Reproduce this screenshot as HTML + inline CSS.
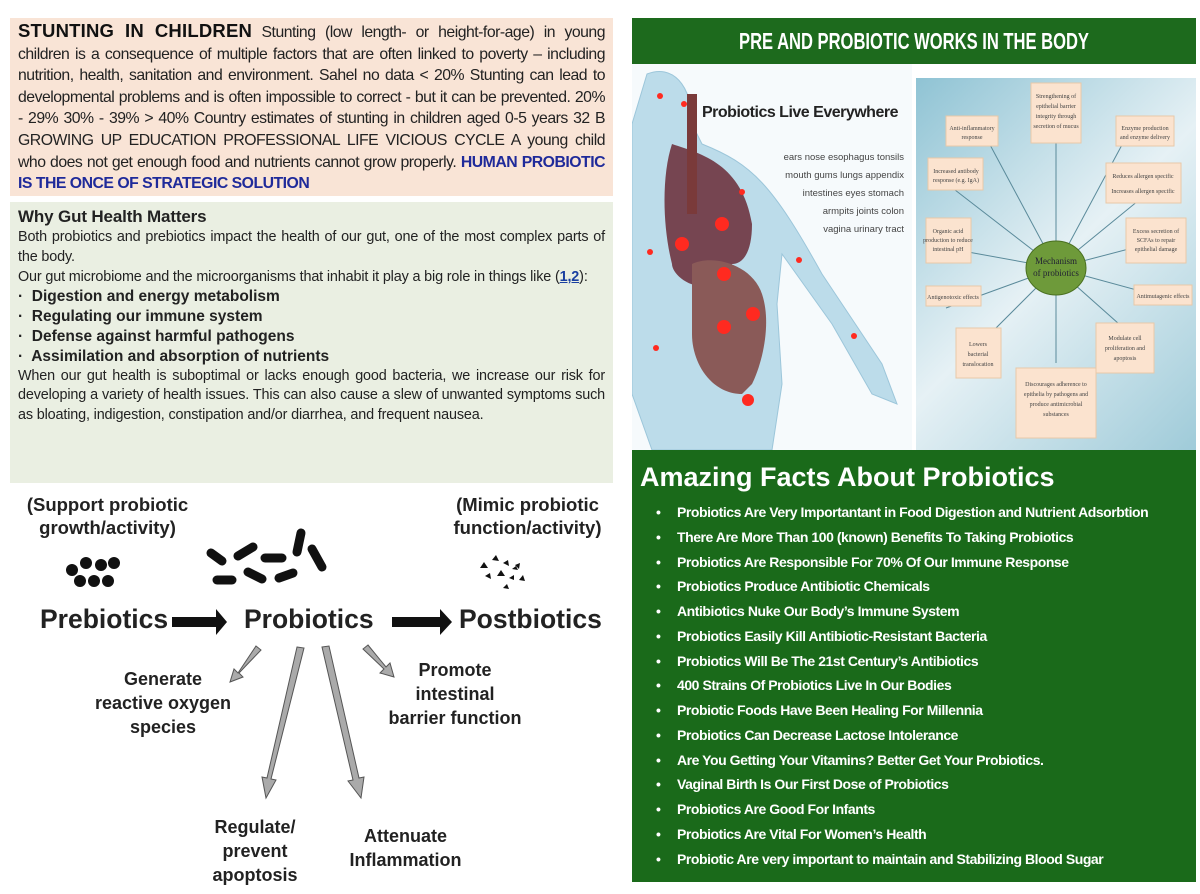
<!DOCTYPE html>
<html><head><meta charset="utf-8"><style>
*{margin:0;padding:0;box-sizing:border-box}
body{width:1200px;height:894px;background:#fff;position:relative;overflow:hidden;font-family:"Liberation Sans",sans-serif}
.abs{position:absolute}
#stunt{left:10px;top:18px;width:603px;height:178px;background:#f9e4d6;padding:2px 8px 0 8px;font-size:15.8px;line-height:21.6px;text-align:justify;color:#222;letter-spacing:-0.5px}
#stunt b.t{font-size:18.5px;letter-spacing:0.2px;color:#111}
#stunt .blue{color:#1f2a9a;font-weight:bold}
#gut{left:10px;top:202px;width:603px;height:281px;background:#eaefe2;padding:4px 8px 0 8px;font-size:14.4px;line-height:19.8px;text-align:justify;color:#222;letter-spacing:-0.15px}
#gut h3{font-size:17px;line-height:22px;color:#222}
#gut .bl{font-weight:bold;font-size:15.5px;letter-spacing:0}
#gut a{color:#1a3fa0;text-decoration:underline;font-weight:bold}
#hdr{left:632px;top:18px;width:564px;height:46px;background:#1d6a1d;color:#fff;font-weight:bold;font-size:23px;text-align:center;line-height:46px}
#hdr span{display:inline-block;transform:scaleX(0.72)}
#facts{left:632px;top:450px;width:564px;height:432px;background:#1a6a1a;color:#fff}
#facts h2{position:absolute;left:8px;top:12px;font-size:27px}
#facts ul{position:absolute;left:24px;top:50px;list-style:none}
#facts li{font-size:14px;font-weight:bold;line-height:24.75px;letter-spacing:-0.45px;white-space:nowrap}
#facts li:before{content:"•";display:inline-block;width:21px;font-size:14px}
.dia{font-weight:bold;color:#222;text-align:center;position:absolute}
</style></head><body>
<div id="stunt" class="abs"><b class="t">STUNTING IN CHILDREN</b> Stunting (low length- or height-for-age) in young children is a consequence of multiple factors that are often linked to poverty – including nutrition, health, sanitation and environment. Sahel no data &lt; 20% Stunting can lead to developmental problems and is often impossible to correct - but it can be prevented. 20% - 29% 30% - 39% &gt; 40% Country estimates of stunting in children aged 0-5 years 32 B GROWING UP EDUCATION PROFESSIONAL LIFE VICIOUS CYCLE A young child who does not get enough food and nutrients cannot grow properly. <span class="blue">HUMAN PROBIOTIC IS THE ONCE OF STRATEGIC SOLUTION</span></div>

<div id="gut" class="abs"><h3>Why Gut Health Matters</h3>Both probiotics and prebiotics impact the health of our gut, one of the most complex parts of the body.<br>Our gut microbiome and the microorganisms that inhabit it play a big role in things like (<a>1,2</a>):<br>
<div class="bl">·&nbsp; Digestion and energy metabolism</div>
<div class="bl">·&nbsp; Regulating our immune system</div>
<div class="bl">·&nbsp; Defense against harmful pathogens</div>
<div class="bl">·&nbsp; Assimilation and absorption of nutrients</div>
When our gut health is suboptimal or lacks enough good bacteria, we increase our risk for developing a variety of health issues. This can also cause a slew of unwanted symptoms such as bloating, indigestion, constipation and/or diarrhea, and frequent nausea.</div>

<!-- diagram -->
<div class="dia" style="left:15px;top:493px;width:185px;font-size:18.5px;line-height:23px">(Support probiotic growth/activity)</div>
<div class="dia" style="left:440px;top:493px;width:175px;font-size:18.5px;line-height:23px">(Mimic probiotic function/activity)</div>
<div class="dia" style="left:40px;top:604px;font-size:26.5px">Prebiotics</div>
<div class="dia" style="left:244px;top:604px;font-size:26.5px">Probiotics</div>
<div class="dia" style="left:459px;top:604px;font-size:26.5px">Postbiotics</div>
<div class="dia" style="left:83px;top:667px;width:160px;font-size:18px;line-height:24px">Generate<br>reactive oxygen<br>species</div>
<div class="dia" style="left:375px;top:658px;width:160px;font-size:18px;line-height:24px">Promote<br>intestinal<br>barrier function</div>
<div class="dia" style="left:205px;top:815px;width:100px;font-size:18px;line-height:24px">Regulate/<br>prevent<br>apoptosis</div>
<div class="dia" style="left:338px;top:824px;width:135px;font-size:18px;line-height:24px">Attenuate<br>Inflammation</div>
<svg class="abs" style="left:0;top:480px" width="620" height="410">
<g fill="#111">
<circle cx="72" cy="90" r="6"/><circle cx="86" cy="83" r="6"/><circle cx="101" cy="85" r="6"/><circle cx="114" cy="83" r="6"/><circle cx="80" cy="101" r="6"/><circle cx="94" cy="101" r="6"/><circle cx="108" cy="101" r="6"/>
<path d="M172 137h44v-8l11 13-11 13v-8h-44z"/>
<path d="M392 137h48v-8l12 13-12 13v-8h-48z"/>
<path d="M480 88l4-6 4 6z M492 80l4-5 3 6z M503 83l5-3 1 6z M515 85l5-2-1 6z M485 96l5-3 1 6z M497 96l4-6 4 6z M509 98l5-3 0 5z M519 100l4-5 2 6z M503 108l4-4 2 5z M512 89l4-3 2 4z"/>
</g>
<g stroke="#111" stroke-width="9" stroke-linecap="round">
<line x1="211" y1="73" x2="222" y2="81"/><line x1="238" y1="76" x2="253" y2="67"/><line x1="265" y1="78" x2="282" y2="78"/><line x1="297" y1="72" x2="301" y2="53"/><line x1="312" y1="69" x2="322" y2="87"/><line x1="217" y1="100" x2="232" y2="100"/><line x1="248" y1="92" x2="262" y2="99"/><line x1="279" y1="98" x2="293" y2="93"/>
</g>
<g fill="#aaa" stroke="#555" stroke-width="1">
<path d="M256 166l5 4-22 23 4 4-13 5 4-13 4 4z"/>
<path d="M297 167l7 1-33 131 5 1-10 18-4-21 5 1z"/>
<path d="M322 167l7-1 30 132 5-1-3 21-13-17 5-1z"/>
<path d="M368 165l-5 4 21 20-4 4 14 4-4-14-4 4z"/>
</g>
</svg>

<div id="hdr" class="abs"><span>PRE AND PROBIOTIC WORKS IN THE BODY</span></div>

<!-- body picture -->
<div class="abs" style="left:632px;top:64px;width:280px;height:386px;background:#f6fafc"></div>
<svg class="abs" style="left:632px;top:64px" width="280" height="386">
<path d="M15 10 C40 0 60 20 60 60 L70 80 C120 100 140 120 190 210 L250 300 L265 340 L240 330 L200 260 L150 190 L145 240 L150 320 L140 386 L20 386 L0 330 L0 60z" fill="#bcdcea" stroke="#9cc6da"/>
<path d="M40 80 C70 90 110 100 120 160 C120 190 110 200 100 200 L90 220 C60 230 40 210 40 200 C30 160 30 110 40 80z" fill="#6e3440" opacity="0.9"/>
<path d="M60 200 C80 190 120 200 130 230 C140 260 130 300 120 320 L110 330 C80 330 60 300 60 270z" fill="#8a5a58"/>
<rect x="55" y="30" width="10" height="120" fill="#7a3a3a"/>
<g fill="#ff2a20"><circle cx="50" cy="180" r="7"/><circle cx="90" cy="160" r="7"/><circle cx="92" cy="210" r="7"/><circle cx="121" cy="250" r="7"/><circle cx="92" cy="263" r="7"/><circle cx="116" cy="336" r="6"/><circle cx="110" cy="128" r="3"/><circle cx="18" cy="188" r="3"/><circle cx="167" cy="196" r="3"/><circle cx="24" cy="284" r="3"/><circle cx="222" cy="272" r="3"/><circle cx="28" cy="32" r="3"/><circle cx="52" cy="40" r="3"/></g>
<text x="70" y="53" font-family="Liberation Sans" font-weight="bold" font-size="16" fill="#222" letter-spacing="-0.5">Probiotics Live Everywhere</text>
<g font-family="Liberation Sans" font-size="9.5" fill="#444" text-anchor="end">
<text x="272" y="96">ears  nose  esophagus  tonsils</text>
<text x="272" y="114">mouth gums lungs appendix</text>
<text x="272" y="132">intestines  eyes  stomach</text>
<text x="272" y="150">armpits  joints colon</text>
<text x="272" y="168">vagina urinary tract</text>
</g>
</svg>
<!-- mechanism panel -->
<div class="abs" style="left:916px;top:78px;width:280px;height:372px;background:linear-gradient(135deg,#8fc3d4,#e6f1f5 50%,#9fcbd9)"></div>
<svg class="abs" style="left:916px;top:78px" width="280" height="372">
<g stroke="#5a8a9a" stroke-width="1">
<line x1="140" y1="190" x2="140" y2="30"/><line x1="140" y1="190" x2="65" y2="50"/><line x1="140" y1="190" x2="215" y2="50"/><line x1="140" y1="190" x2="30" y2="105"/><line x1="140" y1="190" x2="250" y2="100"/><line x1="140" y1="190" x2="30" y2="170"/><line x1="140" y1="190" x2="255" y2="160"/><line x1="140" y1="190" x2="30" y2="230"/><line x1="140" y1="190" x2="250" y2="220"/><line x1="140" y1="190" x2="60" y2="270"/><line x1="140" y1="190" x2="230" y2="270"/><line x1="140" y1="190" x2="140" y2="285"/>
</g>
<ellipse cx="140" cy="190" rx="30" ry="27" fill="#6e9a3a" stroke="#4a7020"/>
<text x="140" y="186" font-size="9" text-anchor="middle" font-family="Liberation Serif" fill="#223">Mechanism</text>
<text x="140" y="198" font-size="9" text-anchor="middle" font-family="Liberation Serif" fill="#223">of probiotics</text>
<g fill="#fbe3cf" stroke="#e8c8a8">
<rect x="115" y="5" width="50" height="60"/><rect x="30" y="38" width="52" height="30"/><rect x="200" y="38" width="58" height="30"/><rect x="12" y="80" width="55" height="32"/><rect x="190" y="85" width="75" height="40"/><rect x="10" y="140" width="45" height="45"/><rect x="210" y="140" width="60" height="45"/><rect x="10" y="208" width="55" height="20"/><rect x="218" y="207" width="58" height="20"/><rect x="40" y="250" width="45" height="50"/><rect x="180" y="245" width="58" height="50"/><rect x="100" y="290" width="80" height="70"/>
</g>
<g font-family="Liberation Serif" font-size="6" fill="#444" text-anchor="middle">
<text x="140" y="20">Strengthening of</text><text x="140" y="30">epithelial barrier</text><text x="140" y="40">integrity through</text><text x="140" y="50">secretion of mucus</text>
<text x="56" y="52">Anti-inflammatory</text><text x="56" y="61">response</text>
<text x="229" y="52">Enzyme production</text><text x="229" y="61">and enzyme delivery</text>
<text x="40" y="95">Increased antibody</text><text x="40" y="104">response (e.g. IgA)</text>
<text x="227" y="100">Reduces allergen specific</text><text x="227" y="115">Increases allergen specific</text>
<text x="32" y="155">Organic acid</text><text x="32" y="164">production to reduce</text><text x="32" y="173">intestinal pH</text>
<text x="240" y="155">Excess secretion of</text><text x="240" y="164">SCFAs to repair</text><text x="240" y="173">epithelial damage</text>
<text x="37" y="221">Antigenotoxic effects</text><text x="247" y="220">Antimutagenic effects</text>
<text x="62" y="268">Lowers</text><text x="62" y="278">bacterial</text><text x="62" y="288">translocation</text>
<text x="209" y="262">Modulate cell</text><text x="209" y="272">proliferation and</text><text x="209" y="282">apoptosis</text>
<text x="140" y="308">Discourages adherence to</text><text x="140" y="318">epithelia by pathogens and</text><text x="140" y="328">produce antimicrobial</text><text x="140" y="338">substances</text>
</g>
</svg>

<div id="facts" class="abs"><h2>Amazing Facts About Probiotics</h2>
<ul>
<li>Probiotics Are Very Importantant in Food Digestion and Nutrient Adsorbtion</li>
<li>There Are More Than 100 (known) Benefits To Taking Probiotics</li>
<li>Probiotics Are Responsible For 70% Of Our Immune Response</li>
<li>Probiotics Produce Antibiotic Chemicals</li>
<li>Antibiotics Nuke Our Body’s Immune System</li>
<li>Probiotics Easily Kill Antibiotic-Resistant Bacteria</li>
<li>Probiotics Will Be The 21st Century’s Antibiotics</li>
<li>400 Strains Of Probiotics Live In Our Bodies</li>
<li>Probiotic Foods Have Been Healing For Millennia</li>
<li>Probiotics Can Decrease Lactose Intolerance</li>
<li>Are You Getting Your Vitamins? Better Get Your Probiotics.</li>
<li>Vaginal Birth Is Our First Dose of Probiotics</li>
<li>Probiotics Are Good For Infants</li>
<li>Probiotics Are Vital For Women’s Health</li>
<li>Probiotic Are very important to maintain and Stabilizing Blood Sugar</li>
</ul></div>
</body></html>
